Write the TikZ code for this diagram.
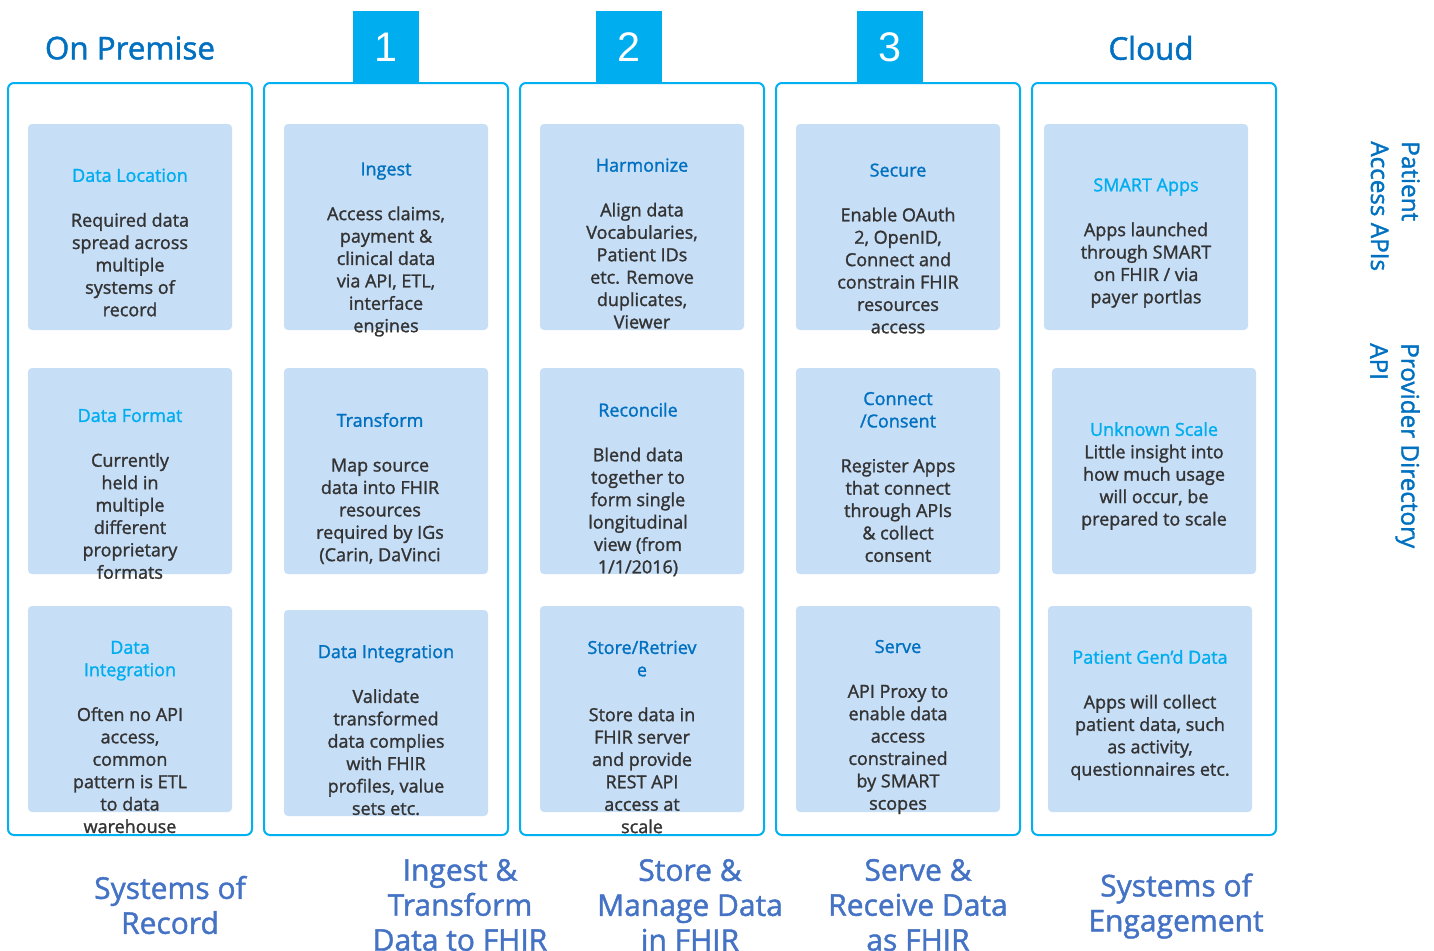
\documentclass[tikz,border=0pt]{standalone}
\usepackage{fontspec}
\setmainfont{Open Sans}[FakeBold=1.4]
\newfontfamily\numfont{Liberation Sans}
\usetikzlibrary{fit}
\definecolor{colline}{HTML}{00B0F0}
\definecolor{numbg}{HTML}{00ADEF}
\definecolor{hdr}{HTML}{0070C0}
\definecolor{cellfill}{HTML}{C7DEF7}
\definecolor{ttlcyan}{HTML}{00AEEF}
\definecolor{ttlblue}{HTML}{0070C0}
\definecolor{bodytxt}{HTML}{333333}
\definecolor{foot}{HTML}{4472C4}
\tikzset{
  colbox/.style={draw=colline, line width=1.5pt, rounded corners=4.5pt, inner sep=0pt},
  cell/.style={fill=cellfill, rounded corners=3pt, inner sep=0pt},
  numbox/.style={fill=numbg, text=white, inner sep=0pt, minimum width=49.5pt, minimum height=54pt, font=\numfont\fontsize{31}{34}\selectfont},
  hdrtext/.style={text=hdr, font=\fontsize{23.5}{28}\selectfont},
  bodytext/.style={text=bodytxt, align=center, inner sep=0pt, font=\fontsize{13.5}{16.8}\selectfont},
  foottext/.style={text=foot, align=center, inner sep=0pt, font=\fontsize{22.5}{26.25}\selectfont},
  sidetext/.style={text=hdr, align=left, inner sep=0pt, rotate=-90, anchor=north west, font=\fontsize{18.2}{23.2}\selectfont},
}
\newcommand{\tc}[1]{\textcolor{ttlcyan}{#1}}
\newcommand{\tb}[1]{\textcolor{ttlblue}{#1}}
\begin{document}
\begin{tikzpicture}[x=0.75pt,y=-0.75pt]
\useasboundingbox (0,0) rectangle (1434,950);
% columns
\node[colbox, fit={(8,83) (252,835)}] (col1) {};
\node[colbox, fit={(264,83) (508,835)}] (col2) {};
\node[colbox, fit={(520,83) (764,835)}] (col3) {};
\node[colbox, fit={(776,83) (1020,835)}] (col4) {};
\node[colbox, fit={(1032,83) (1276,835)}] (col5) {};
% headers
\node[hdrtext] (hOn) at (130,48) {On Premise};
\node[hdrtext] (hCloud) at (1151,48) {Cloud};
\node[numbox] (n1) at (386,47) {1};
\node[numbox] (n2) at (629,47) {2};
\node[numbox] (n3) at (890,47) {3};
% cells
\node[cell, fit={(28,124) (232,330)}] (c11) {};
\node[cell, fit={(28,368) (232,574)}] (c12) {};
\node[cell, fit={(28,606) (232,812)}] (c13) {};
\node[cell, fit={(284,124) (488,330)}] (c21) {};
\node[cell, fit={(284,368) (488,574)}] (c22) {};
\node[cell, fit={(284,610) (488,816)}] (c23) {};
\node[cell, fit={(540,124) (744,330)}] (c31) {};
\node[cell, fit={(540,368) (744,574)}] (c32) {};
\node[cell, fit={(540,606) (744,812)}] (c33) {};
\node[cell, fit={(796,124) (1000,330)}] (c41) {};
\node[cell, fit={(796,368) (1000,574)}] (c42) {};
\node[cell, fit={(796,606) (1000,812)}] (c43) {};
\node[cell, fit={(1044,124) (1248,330)}] (c51) {};
\node[cell, fit={(1052,368) (1256,574)}] (c52) {};
\node[cell, fit={(1048,606) (1252,812)}] (c53) {};
% cell texts
\node[bodytext] (t11) at (130,242.5) {\tc{Data Location}\\[16.8pt]Required data\\spread across\\multiple\\systems of\\record};
\node[bodytext] (t12) at (130,494) {\tc{Data Format}\\[16.8pt]Currently\\held in\\multiple\\different\\proprietary\\formats};
\node[bodytext] (t13) at (130,737) {\tc{Data}\\\tc{Integration}\\[16.8pt]Often no API\\access,\\common\\pattern is ETL\\to data\\warehouse};
\node[bodytext] (t21) at (386,249.5) {\tb{Ingest}\\[16.8pt]Access claims,\\payment \&\\clinical data\\via API, ETL,\\interface\\engines};
\node[bodytext] (t22) at (380,488.5) {\tb{Transform}\\[16.8pt]Map source\\data into FHIR\\resources\\required by IGs\\(Carin, DaVinci};
\node[bodytext] (t23) at (386,730) {\tb{Data Integration}\\[16.8pt]Validate\\transformed\\data complies\\with FHIR\\profiles, value\\sets etc.};
\node[bodytext] (t31) at (642,243.5) {\tb{Harmonize}\\[16.8pt]Align data\\Vocabularies,\\Patient IDs\\etc. Remove\\duplicates,\\Viewer};
\node[bodytext] (t32) at (638,489.5) {\tb{Reconcile}\\[16.8pt]Blend data\\together to\\form single\\longitudinal\\view (from\\1/1/2016)};
\node[bodytext] (t33) at (642,737) {\tb{Store/Retriev}\\\tb{e}\\[16.8pt]Store data in\\FHIR server\\and provide\\REST API\\access at\\scale};
\node[bodytext] (t41) at (898,248.5) {\tb{Secure}\\[16.8pt]Enable OAuth\\2, OpenID,\\Connect and\\constrain FHIR\\resources\\access};
\node[bodytext] (t42) at (898,477) {\tb{Connect}\\\tb{/Consent}\\[16.8pt]Register Apps\\that connect\\through APIs\\\& collect\\consent};
\node[bodytext] (t43) at (898,727) {\tb{Serve}\\[16.8pt]API Proxy to\\enable data\\access\\constrained\\by SMART\\scopes};
\node[bodytext] (t51) at (1146,243) {\tc{SMART Apps}\\[16.8pt]Apps launched\\through SMART\\on FHIR / via\\payer portlas};
\node[bodytext] (t52) at (1154,476) {\tc{Unknown Scale}\\Little insight into\\how much usage\\will occur, be\\prepared to scale};
\node[bodytext] (t53) at (1150,715) {\tc{Patient Gen'd Data}\\[16.8pt]Apps will collect\\patient data, such\\as activity,\\questionnaires etc.};
% footers
\node[foottext] (f1) at (170,905) {Systems of\\Record};
\node[foottext] (f2) at (460,905) {Ingest \&\\Transform\\Data to FHIR};
\node[foottext] (f3) at (690,905) {Store \&\\Manage Data\\in FHIR};
\node[foottext] (f4) at (918,905) {Serve \&\\Receive Data\\as FHIR};
\node[foottext] (f5) at (1176,906) {Systems of\\Engagement};
% side labels
\node[sidetext] (s1) at (1420,141) {Patient\\Access APIs};
\node[sidetext] (s2) at (1420,343) {Provider Directory\\API};
\end{tikzpicture}
\end{document}
